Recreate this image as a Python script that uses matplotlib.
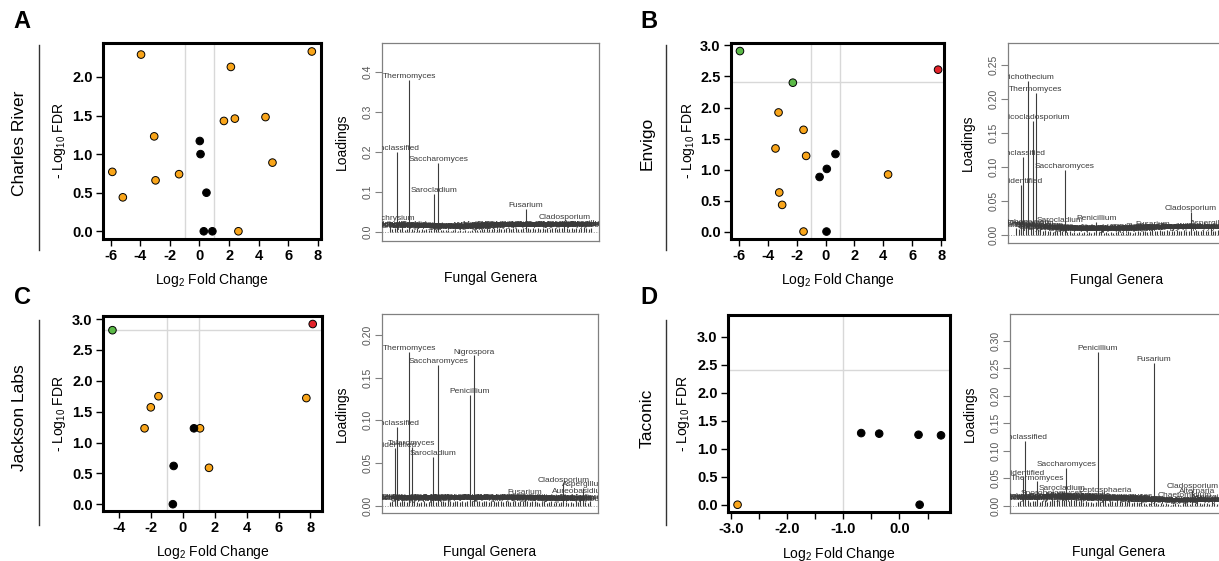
import numpy as np
import matplotlib
matplotlib.use("Agg")
import matplotlib.pyplot as plt
from matplotlib import rcParams
from matplotlib.lines import Line2D
from matplotlib import transforms

rcParams['font.family'] = 'sans-serif'
rcParams['font.sans-serif'] = ['Liberation Sans', 'DejaVu Sans']
rcParams['mathtext.fontset'] = 'custom'
rcParams['mathtext.rm'] = 'Liberation Sans'
rcParams['axes.unicode_minus'] = False

W, H = 1219, 561

# ---- volcano data: log2 fold change, -log10 FDR, category ----
cr_fc = [-5.89, -5.18, -3.95, -3.06, -2.97, -1.38, 0.02, 0.07, 0.47, 0.29, 0.87,
         1.65, 2.39, 2.12, 2.63, 4.46, 4.93, 7.59]
cr_fdr = [0.77, 0.44, 2.29, 1.23, 0.66, 0.74, 1.17, 1.00, 0.50, 0.0, 0.0,
          1.43, 1.46, 2.13, 0.0, 1.48, 0.89, 2.33]
cr_cat = ['fc'] * 6 + ['ns'] * 5 + ['fc'] * 7

en_fc = [-5.92, -2.26, 7.79, -3.25, -1.52, -3.46, -1.34, -3.20, -3.00, -1.52, 4.33,
         -0.41, 0.09, 0.69, 0.07]
en_fdr = [2.91, 2.40, 2.61, 1.92, 1.64, 1.34, 1.22, 0.63, 0.43, 0.0, 0.92,
          0.88, 1.01, 1.25, 0.0]
en_cat = ['down', 'down', 'up'] + ['fc'] * 8 + ['ns'] * 4

jl_fc = [-4.39, 8.14, -1.51, -1.99, -2.38, 1.09, 1.65, 7.74, -0.56, -0.61, 0.71]
jl_fdr = [2.82, 2.92, 1.75, 1.57, 1.23, 1.23, 0.59, 1.72, 0.62, 0.0, 1.23]
jl_cat = ['down', 'up'] + ['fc'] * 6 + ['ns'] * 3

ta_fc = [-2.88, -0.68, -0.36, 0.34, 0.74, 0.36]
ta_fdr = [0.0, 1.28, 1.27, 1.25, 1.24, 0.0]
ta_cat = ['fc'] + ['ns'] * 5

# threshold lines (fold change cut, FDR cut)
cr_fc_cut = [-1, 1]
en_fc_cut = [-1, 1]
jl_fc_cut = [-1, 1]
ta_fc_cut = [-1, 1]
cr_fdr_cut = []
en_fdr_cut = [2.405]
jl_fdr_cut = [2.82]
ta_fdr_cut = [2.415]

cat_colors = {'fc': '#F9A51A', 'ns': 'black', 'down': '#5BB947', 'up': '#E3232A'}

# ---- PCA loadings of fungal genera ----
genera = ['Xerochrysium', 'Wallemia', 'unidentified', 'unclassified', 'Trichosporon',
          'Trichothecium', 'Chaetomium', 'Toxicocladosporium', 'Thermomyces', 'Talaromyces',
          'Trichoderma', 'Candida', 'Debaryomyces', 'Rhodotorula', 'Sporobolomyces',
          'Cryptococcus', 'Mucor', 'Rhizopus', 'Sarocladium', 'Scopulariopsis',
          'Saccharomyces', 'Plectosphaerella', 'Phoma', 'Pichia', 'Kluyveromyces',
          'Malassezia', 'Mycosphaerella', 'Cystofilobasidium', 'Filobasidium', 'Sporidiobolus',
          'Vishniacozyma', 'Dioszegia', 'Papiliotrema', 'Penicillium', 'Paecilomyces',
          'Nigrospora', 'Leptosphaeria', 'Kazachstania', 'Hanseniaspora', 'Torulaspora',
          'Meyerozyma', 'Wickerhamomyces', 'Lodderomyces', 'Kodamaea', 'Cyberlindnera',
          'Phialophora', 'Exophiala', 'Cladophialophora', 'Acremonium', 'Lecanicillium',
          'Beauveria', 'Metarhizium', 'Purpureocillium', 'Verticillium', 'Gibberella',
          'Nectria', 'Fusarium', 'Epicoccum', 'Didymella', 'Stagonosporopsis',
          'Boeremia', 'Ascochyta', 'Neoascochyta', 'Pyrenochaeta', 'Coniothyrium',
          'Paraphoma', 'Preussia', 'Sordaria', 'Podospora', 'Chaetomidium',
          'Humicola', 'Myrothecium', 'Cladosporium', 'Byssochlamys', 'Alternaria',
          'Stemphylium', 'Curvularia', 'Bipolaris', 'Botrytis', 'Aureobasidium',
          'Aspergillus', 'Eurotium', 'Emericella', 'Mortierella']

cr_load = [0.025, 0.008, 0.010, 0.200, 0.007, 0.009, 0.006, 0.008, 0.379, 0.007,
           0.006, 0.009, 0.005, 0.008, 0.006, 0.007, 0.005, 0.006, 0.096, 0.007,
           0.173, 0.006, 0.005, 0.004, 0.006, 0.003, 0.004, 0.005, 0.003, 0.004,
           0.003, 0.004, 0.002, 0.003, 0.004, 0.005, 0.004, 0.006, 0.008, 0.007,
           0.009, 0.008, 0.007, 0.010, 0.008, 0.009, 0.007, 0.008, 0.010, 0.009,
           0.008, 0.010, 0.009, 0.007, 0.008, 0.009, 0.058, 0.010, 0.008, 0.009,
           0.007, 0.010, 0.008, 0.009, 0.007, 0.010, 0.008, 0.009, 0.010, 0.008,
           0.009, 0.010, 0.027, 0.009, 0.008, 0.010, 0.007, 0.009, 0.008, 0.010,
           0.012, 0.009, 0.008, 0.010]

en_load = [0.010, 0.008, 0.074, 0.115, 0.013, 0.226, 0.012, 0.168, 0.209, 0.008,
           0.009, 0.006, 0.007, 0.005, 0.006, 0.004, 0.005, 0.006, 0.016, 0.005,
           0.095, 0.004, 0.005, 0.003, 0.004, 0.003, 0.004, 0.003, 0.004, 0.003,
           0.004, 0.003, 0.004, 0.019, 0.004, 0.005, 0.003, 0.004, 0.003, 0.004,
           0.003, 0.004, 0.005, 0.003, 0.004, 0.003, 0.005, 0.004, 0.003, 0.004,
           0.005, 0.004, 0.006, 0.005, 0.004, 0.006, 0.010, 0.006, 0.005, 0.007,
           0.006, 0.005, 0.007, 0.006, 0.005, 0.006, 0.007, 0.005, 0.006, 0.007,
           0.005, 0.006, 0.033, 0.006, 0.007, 0.005, 0.006, 0.007, 0.005, 0.006,
           0.012, 0.006, 0.005, 0.007]

jl_load = [0.004, 0.005, 0.067, 0.092, 0.004, 0.005, 0.006, 0.004, 0.180, 0.069,
           0.005, 0.004, 0.003, 0.004, 0.005, 0.003, 0.004, 0.005, 0.057, 0.004,
           0.165, 0.005, 0.006, 0.004, 0.005, 0.006, 0.004, 0.005, 0.006, 0.004,
           0.005, 0.004, 0.006, 0.130, 0.005, 0.176, 0.006, 0.005, 0.004, 0.006,
           0.005, 0.004, 0.006, 0.005, 0.004, 0.006, 0.005, 0.004, 0.005, 0.006,
           0.004, 0.005, 0.006, 0.004, 0.005, 0.006, 0.011, 0.005, 0.004, 0.005,
           0.006, 0.004, 0.003, 0.004, 0.005, 0.003, 0.004, 0.005, 0.003, 0.004,
           0.003, 0.004, 0.026, 0.004, 0.003, 0.004, 0.003, 0.005, 0.004, 0.012,
           0.021, 0.004, 0.003, 0.005]

ta_load = [0.006, 0.008, 0.053, 0.117, 0.010, 0.007, 0.009, 0.008, 0.044, 0.007,
           0.008, 0.010, 0.007, 0.009, 0.015, 0.010, 0.012, 0.009, 0.025, 0.011,
           0.068, 0.008, 0.013, 0.010, 0.012, 0.009, 0.012, 0.007, 0.008, 0.006,
           0.007, 0.005, 0.006, 0.280, 0.007, 0.008, 0.022, 0.005, 0.009, 0.008,
           0.006, 0.010, 0.008, 0.007, 0.009, 0.006, 0.008, 0.005, 0.007, 0.006,
           0.004, 0.006, 0.005, 0.003, 0.004, 0.005, 0.259, 0.004, 0.003, 0.004,
           0.003, 0.004, 0.003, 0.002, 0.003, 0.004, 0.003, 0.002, 0.004, 0.012,
           0.004, 0.003, 0.028, 0.004, 0.020, 0.005, 0.003, 0.004, 0.005, 0.003,
           0.008, 0.004, 0.003, 0.005]


def px_rect(left, top, right, bottom):
    return [left / W, 1 - bottom / H, (right - left) / W, (bottom - top) / H]


def volcano(fig, rect, fc, fdr, cat, fc_cut, fdr_cut, xlim, ylim, xticks, yticks,
            xlabels=None, xlab_y=-0.165):
    ax = fig.add_axes(rect)
    for v in fc_cut:
        ax.axvline(v, color='#D8D8D8', lw=1.0, zorder=1)
    for h in fdr_cut:
        ax.axhline(h, color='#D8D8D8', lw=1.0, zorder=1)
    cols = [cat_colors[c] for c in cat]
    ax.scatter(fc, fdr, s=30, c=cols, edgecolors='black', linewidths=0.7, zorder=3)
    ax.set_xlim(xlim)
    ax.set_ylim(ylim)
    ax.set_xticks(xticks)
    if xlabels is None:
        ax.set_xticklabels(['%d' % t for t in xticks])
    else:
        ax.set_xticklabels(xlabels)
    ax.set_yticks(yticks)
    ax.set_yticklabels(['%.1f' % t for t in yticks])
    for s in ax.spines.values():
        s.set_linewidth(2.2)
    ax.tick_params(length=5, width=1.0, pad=2.5, labelsize=10.5)
    for lab in ax.get_xticklabels() + ax.get_yticklabels():
        lab.set_fontweight('bold')
    ax.set_xlabel('Log$_2$ Fold Change', fontsize=10)
    ax.set_ylabel('- Log$_{10}$ FDR', fontsize=10)
    ax.xaxis.set_label_coords(0.5, xlab_y)
    ax.yaxis.set_label_coords(-0.16, 0.5)
    return ax


def loadings(fig, rect, values, ylim, yticks, yfmt, xlab_y=-0.15):
    ax = fig.add_axes(rect)
    n = len(genera)
    idx = np.arange(1, n + 1)
    pad = 0.04 * (n - 1)
    ax.axhline(0, color='#9A9A9A', lw=0.7, ls=':', zorder=1)
    ax.vlines(idx, 0, values, color='#3C3C3C', lw=0.8, zorder=2)
    trans = transforms.offset_copy(ax.transData, fig=fig, y=2.5, units='points')
    for i, name, v in zip(idx, genera, values):
        ax.text(i, v, name, transform=trans, ha='center', va='center',
                fontsize=6.0, color='#3A3A3A', clip_on=True)
    ax.set_xlim(1 - pad, n + pad)
    ax.set_ylim(ylim)
    ax.set_xticks([])
    ax.set_yticks(yticks)
    ax.set_yticklabels([yfmt % t for t in yticks], rotation=90, va='center')
    for s in ax.spines.values():
        s.set_linewidth(0.9)
        s.set_color('#808080')
    ax.tick_params(axis='y', length=5, width=0.8, color='#808080', labelsize=7.5,
                   labelcolor='#555555', pad=2)
    ax.set_ylabel('Loadings', fontsize=10)
    ax.set_xlabel('Fungal Genera', fontsize=10)
    ax.yaxis.set_label_coords(-0.152, 0.5)
    ax.xaxis.set_label_coords(0.5, xlab_y)
    return ax


fig = plt.figure(figsize=(W / 100, H / 100), dpi=100)

# A - Charles River
volcano(fig, px_rect(103, 43, 321, 239), cr_fc, cr_fdr, cr_cat, cr_fc_cut, cr_fdr_cut,
        (-6.52, 8.21), (-0.1, 2.44), [-6, -4, -2, 0, 2, 4, 6, 8], [0, 0.5, 1.0, 1.5, 2.0])
loadings(fig, px_rect(382, 43, 599, 241), cr_load, (-0.0225, 0.4725),
         [0.0, 0.1, 0.2, 0.3, 0.4], '%.1f')

# B - Envigo
volcano(fig, px_rect(731, 43, 944, 239), en_fc, en_fdr, en_cat, en_fc_cut, en_fdr_cut,
        (-6.54, 8.2), (-0.12, 3.04), [-6, -4, -2, 0, 2, 4, 6, 8],
        [0, 0.5, 1.0, 1.5, 2.0, 2.5, 3.0])
loadings(fig, px_rect(1008, 43, 1226, 243), en_load, (-0.012, 0.2825),
         [0.0, 0.05, 0.10, 0.15, 0.20, 0.25], '%.2f')

# C - Jackson Labs
volcano(fig, px_rect(103, 316, 322, 511), jl_fc, jl_fdr, jl_cat, jl_fc_cut, jl_fdr_cut,
        (-4.98, 8.72), (-0.11, 3.05), [-4, -2, 0, 2, 4, 6, 8],
        [0, 0.5, 1.0, 1.5, 2.0, 2.5, 3.0], xlab_y=-0.165)
loadings(fig, px_rect(382, 314, 598, 513), jl_load, (-0.0086, 0.2246),
         [0.0, 0.05, 0.10, 0.15, 0.20], '%.2f', xlab_y=-0.16)

# D - Taconic
d_ticks = [-3.0, -2.5, -2.0, -1.5, -1.0, -0.5, 0.0, 0.5]
d_labels = ['-3.0', '', '-2.0', '', '-1.0', '', '0.0', '']
volcano(fig, px_rect(728, 315, 950, 512), ta_fc, ta_fdr, ta_cat, ta_fc_cut, ta_fdr_cut,
        (-3.05, 0.90), (-0.13, 3.39), d_ticks, [0, 0.5, 1.0, 1.5, 2.0, 2.5, 3.0],
        xlabels=d_labels, xlab_y=-0.165)
loadings(fig, px_rect(1010, 314, 1227, 513), ta_load, (-0.0133, 0.3485),
         [0.0, 0.05, 0.10, 0.15, 0.20, 0.25, 0.30], '%.2f', xlab_y=-0.16)

# panel letters, row labels and separators
rows = [('A', 'Charles River', 0, 0), ('B', 'Envigo', 627, 0),
        ('C', 'Jackson Labs', 0, 275), ('D', 'Taconic', 627, 275)]
for letter, name, dx, dy in rows:
    fig.text((dx + 22) / W, 1 - (dy + 22) / H, letter, fontsize=17, fontweight='bold',
             ha='center', va='center')
    fig.text((dx + 20) / W, 1 - (dy + 143) / H, name, fontsize=12.5, rotation=90,
             ha='center', va='center')
    fig.add_artist(Line2D([(dx + 39) / W] * 2, [1 - (dy + 45) / H, 1 - (dy + 250) / H],
                          color='#333333', lw=1.0))

plt.savefig('out.png', dpi=100)
